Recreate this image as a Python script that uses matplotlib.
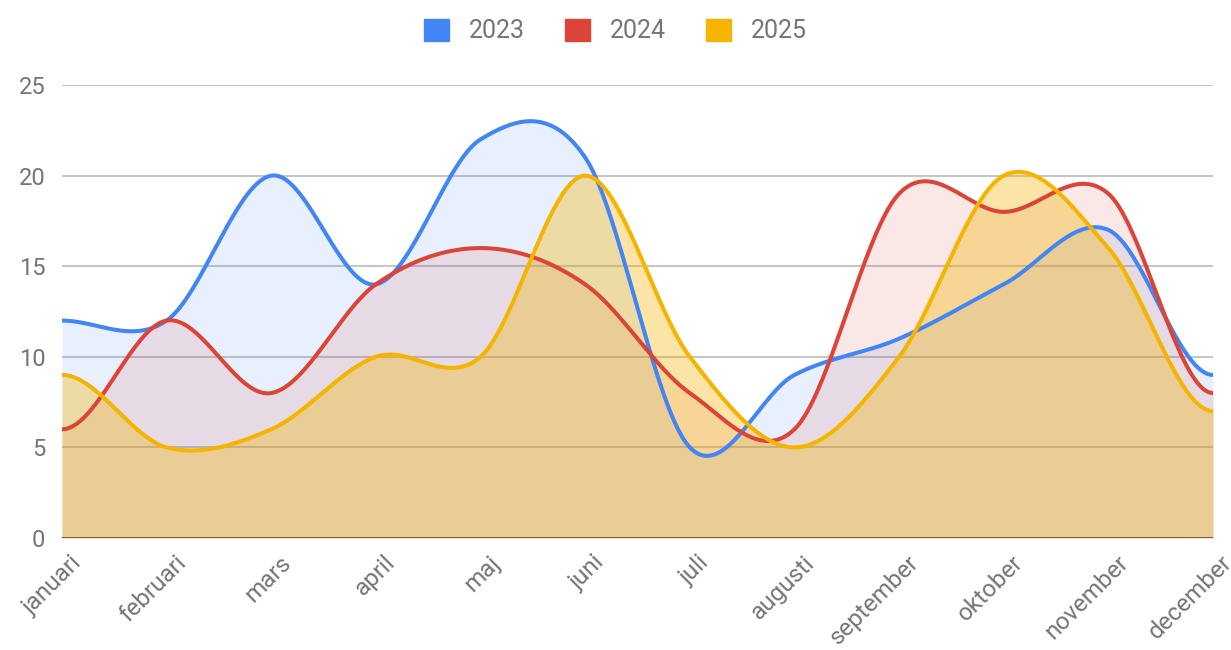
import numpy as np
import matplotlib
matplotlib.use("Agg")
import matplotlib.pyplot as plt
import matplotlib.transforms as mtransforms
from matplotlib.patches import Patch

plt.rcParams['font.family'] = ['Roboto', 'DejaVu Sans']

months = ["januari", "februari", "mars", "april", "maj", "juni", "juli",
          "augusti", "september", "oktober", "november", "december"]
series_names = ["2023", "2024", "2025"]
values_2023 = [12, 12, 20, 14, 22, 21, 5, 9, 11, 14, 17, 9]
values_2024 = [6, 12, 8, 14, 16, 14, 8, 6, 19, 18, 19, 8]
values_2025 = [9, 5, 6, 10, 10, 20, 10, 5, 10, 20, 16, 7]
colors = ["#4285F4", "#DB4437", "#F4B400"]
fill_alphas = [0.12, 0.12, 0.35]
yticks = [0, 5, 10, 15, 20, 25]


def smooth(y, n=40):
    y = np.asarray(y, float)
    k = len(y)
    m = np.zeros(k)
    m[1:-1] = (y[2:] - y[:-2]) / 2.0
    xs, ys = [], []
    for i in range(k - 1):
        t = np.linspace(0, 1, n, endpoint=False)
        h00 = 2 * t**3 - 3 * t**2 + 1
        h10 = t**3 - 2 * t**2 + t
        h01 = -2 * t**3 + 3 * t**2
        h11 = t**3 - t**2
        xs.append(i + t)
        ys.append(h00 * y[i] + h10 * m[i] + h01 * y[i + 1] + h11 * m[i + 1])
    xs.append([k - 1])
    ys.append([y[-1]])
    return np.concatenate(xs), np.concatenate(ys)


fig = plt.figure(figsize=(12.31, 6.5), dpi=100)
ax = fig.add_axes([62 / 1231, 1 - 538 / 650, (1213 - 62) / 1231, (538 - 85) / 650])

x = np.arange(len(months))
all_series = [values_2023, values_2024, values_2025]

for yt in yticks[1:]:
    ax.axhline(yt, color="#c6c6c6", lw=1.5, zorder=0)
ax.axhline(0, color="#333333", lw=2.2, zorder=0.5)

curves = []
for vals, c, a in zip(all_series, colors, fill_alphas):
    xs, ys = smooth(vals)
    curves.append((xs, ys))
    ax.fill_between(xs, 0, ys, color=c, alpha=a, lw=0, zorder=1)
for (xs, ys), c in zip(curves, colors):
    ax.plot(xs, ys, color=c, lw=2.9, zorder=3, solid_capstyle="round")

ax.set_xlim(0, len(months) - 1)
ax.set_ylim(0, 25)
ax.set_yticks(yticks)
ax.set_yticklabels([str(v) for v in yticks], fontsize=17, color="#757575")
ax.set_xticks(x)
ax.set_xticklabels([""] * len(months))
offset = mtransforms.ScaledTranslation(8 / 100, -13 / 100, fig.dpi_scale_trans)
trans = ax.get_xaxis_transform() + offset
for xi, m in zip(x, months):
    ax.text(xi, 0, m, transform=trans, rotation=45, ha="right", va="top",
            rotation_mode="anchor", fontsize=17.5, color="#757575", clip_on=False)
ax.tick_params(axis="both", length=0)
ax.tick_params(axis="y", pad=12)
for s in ax.spines.values():
    s.set_visible(False)

handles = [Patch(facecolor=c, edgecolor=c) for c in colors]
leg = fig.legend(handles, series_names, loc="upper center", bbox_to_anchor=(0.5, 1.006),
                 ncol=3, frameon=False, fontsize=18, handlelength=1.0, handleheight=1.0,
                 handletextpad=0.8, columnspacing=1.6)
for t in leg.get_texts():
    t.set_color("#757575")

fig.savefig("out.png", dpi=100)
